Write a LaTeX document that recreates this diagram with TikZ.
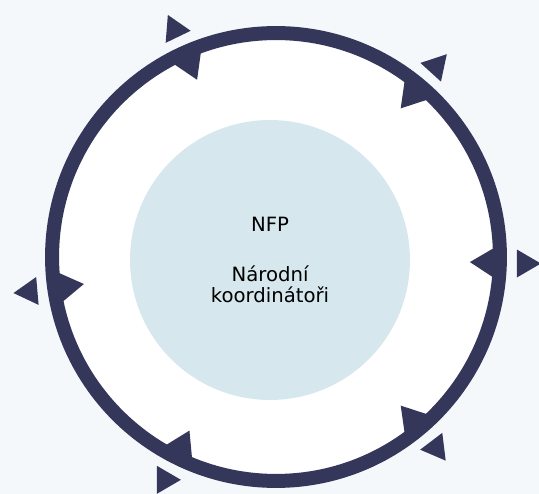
\documentclass[tikz,border=0pt]{standalone}
\usepackage{fontspec}
\setmainfont{DejaVu Sans}
\usepackage{tikz}
\usetikzlibrary{calc}
\definecolor{ringblue}{HTML}{35375A}
\definecolor{coreblue}{HTML}{D6E8EE}
\definecolor{paper}{HTML}{F4F8FB}

\begin{document}
\begin{tikzpicture}[x=0.02cm,y=0.02cm]
  \tikzset{ring/.style={draw=ringblue,line width=0.28cm},
           head/.style={fill=ringblue}}
  \fill[paper] (0,0) rectangle (539,494);
  \useasboundingbox (0,0) rectangle (539,494);
  \coordinate (c) at (276,237);
  \fill[white] (c) circle[radius=4.48cm];

  \node[circle,fill=coreblue,minimum size=5.6cm,align=center,
        font=\fontsize{11.2}{12}\selectfont] (nfp) at (270,234)
        {NFP\\[16pt]Národní\\koordinátoři};

  \draw[ring] (c) circle[radius=4.48cm];

  % heads on the ring
  \foreach \a in {114,50,-1.5,-50,-116.5,188}
    \fill[head] ($(c)+(\a+5.3:229)$) -- ($(c)+(\a-5.3:229)$)
                -- ($(c)+(\a:194)$) -- cycle;
  % loose heads outside
  \foreach \a/\d in {114/-4.5,50/168,-1.5/0,-50/187,-116.5/0,188/185}
    \fill[head,shift={($(c)+(\a:249)$)},rotate=\d]
      (16,0) -- (-8,14) -- (-8,-14) -- cycle;
\end{tikzpicture}
\end{document}
